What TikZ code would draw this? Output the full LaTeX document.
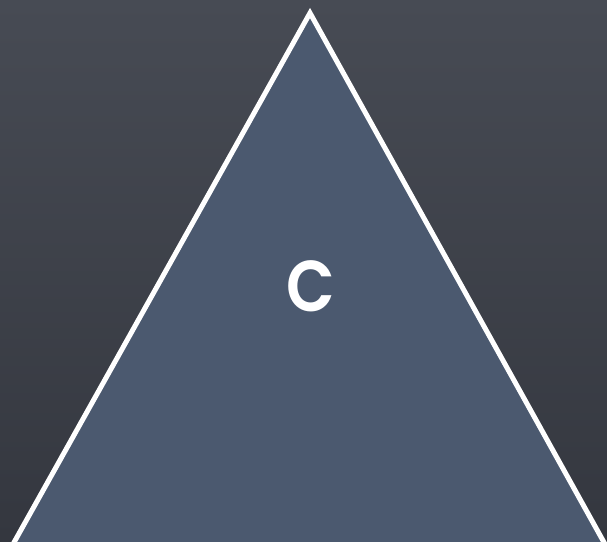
\documentclass[tikz,border=0pt]{standalone}
\usepackage{fontspec}
\newfontfamily\labelfont{Poppins}[UprightFont=* SemiBold]
\definecolor{boardtop}{HTML}{474B54}
\definecolor{boardbot}{HTML}{34373F}
\definecolor{trifill}{HTML}{4B596F}
\tikzset{
  board/.style={top color=boardtop, bottom color=boardbot, draw=none},
  tri/.style={fill=trifill, draw=white, line width=5pt, line join=miter},
  letter/.style={text=white, font=\labelfont\fontsize{72}{72}\selectfont, inner sep=0pt, xscale=0.88}
}
\begin{document}
\begin{tikzpicture}[x=1pt,y=-1pt]
\path[board] (0,0) rectangle (607,541);
\useasboundingbox (0,0) rectangle (607,541);
\begin{scope}
\clip (0,0) rectangle (607,541);
\coordinate (apex) at (310,13);
\coordinate (bl) at (12,546);
\coordinate (br) at (606,546);
\draw[tri] (apex) -- (bl) -- (br) -- cycle;
\end{scope}
\node[letter] (c) at (311,286) {C};
\end{tikzpicture}
\end{document}
